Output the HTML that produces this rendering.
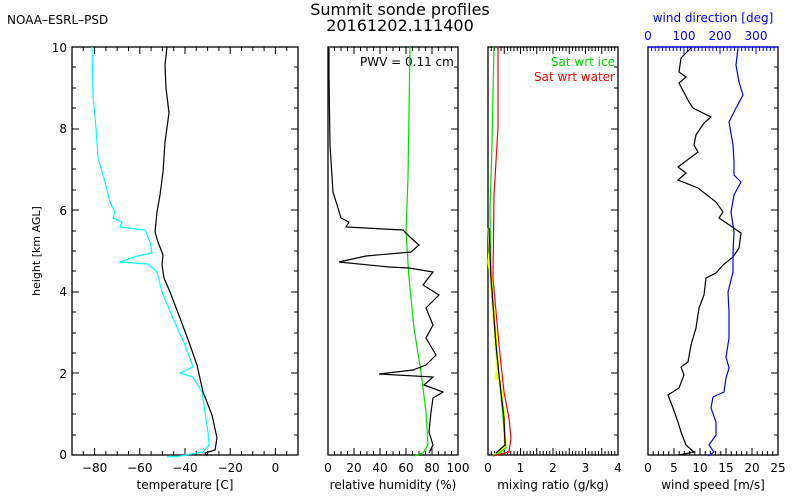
<!DOCTYPE html>
<html><head><meta charset="utf-8"><style>body{margin:0;background:#fff}svg{display:block}text{font-family:"DejaVu Sans","Liberation Sans",sans-serif}</style></head>
<body>
<svg width="800" height="500" xmlns="http://www.w3.org/2000/svg">
<rect width="800" height="500" fill="#fff"/>
<text x="7" y="24" font-size="12">NOAA–ESRL–PSD</text>
<text x="400" y="15" font-size="16" text-anchor="middle">Summit sonde profiles</text>
<text x="400" y="31" font-size="16" text-anchor="middle">20161202.111400</text>
<text transform="translate(40,251) rotate(-90)" font-size="11" text-anchor="middle">height [km AGL]</text>
<g font-size="12" text-anchor="end">
<text x="67" y="459">0</text><text x="67" y="378">2</text><text x="67" y="296">4</text><text x="67" y="215">6</text><text x="67" y="133">8</text><text x="67" y="52">10</text>
</g>
<g fill="none" stroke="#000" stroke-width="1.3">
<rect x="72" y="47" width="226" height="408"/>
<rect x="328" y="47" width="130" height="408"/>
<rect x="488" y="47" width="130" height="408"/>
<rect x="648" y="47" width="130" height="408"/>
</g>
<g stroke="#000" stroke-width="1">
<path d="M72 435h4M72 414h4M72 394h4M72 373h7M72 353h4M72 333h4M72 312h4M72 292h7M72 271h4M72 251h4M72 231h4M72 210h7M72 190h4M72 169h4M72 149h4M72 129h7M72 108h4M72 88h4M72 67h4
M298 435h-4M298 414h-4M298 394h-4M298 373h-7M298 353h-4M298 333h-4M298 312h-4M298 292h-7M298 271h-4M298 251h-4M298 231h-4M298 210h-7M298 190h-4M298 169h-4M298 149h-4M298 129h-7M298 108h-4M298 88h-4M298 67h-4
M458 435h-4M458 414h-4M458 394h-4M458 373h-7M458 353h-4M458 333h-4M458 312h-4M458 292h-7M458 271h-4M458 251h-4M458 231h-4M458 210h-7M458 190h-4M458 169h-4M458 149h-4M458 129h-7M458 108h-4M458 88h-4M458 67h-4
M618 435h-4M618 414h-4M618 394h-4M618 373h-7M618 353h-4M618 333h-4M618 312h-4M618 292h-7M618 271h-4M618 251h-4M618 231h-4M618 210h-7M618 190h-4M618 169h-4M618 149h-4M618 129h-7M618 108h-4M618 88h-4M618 67h-4
M778 435h-4M778 414h-4M778 394h-4M778 373h-7M778 353h-4M778 333h-4M778 312h-4M778 292h-7M778 271h-4M778 251h-4M778 231h-4M778 210h-7M778 190h-4M778 169h-4M778 149h-4M778 129h-7M778 108h-4M778 88h-4M778 67h-4"/>
<path d="M83.3 455v-4M94.6 455v-7M105.9 455v-4M117.2 455v-4M128.5 455v-4M139.8 455v-7M151.1 455v-4M162.4 455v-4M173.7 455v-4M185 455v-7M196.3 455v-4M207.6 455v-4M218.9 455v-4M230.2 455v-7M241.5 455v-4M252.8 455v-4M264.1 455v-4M275.4 455v-7M286.7 455v-4
M83.3 47v4M94.6 47v7M105.9 47v4M117.2 47v4M128.5 47v4M139.8 47v7M151.1 47v4M162.4 47v4M173.7 47v4M185 47v7M196.3 47v4M207.6 47v4M218.9 47v4M230.2 47v7M241.5 47v4M252.8 47v4M264.1 47v4M275.4 47v7M286.7 47v4"/>
<path d="M334.5 455v-4M341 455v-4M347.5 455v-4M354 455v-7M360.5 455v-4M367 455v-4M373.5 455v-4M380 455v-7M386.5 455v-4M393 455v-4M399.5 455v-4M406 455v-7M412.5 455v-4M419 455v-4M425.5 455v-4M432 455v-7M438.5 455v-4M445 455v-4M451.5 455v-4
M334.5 47v4M341 47v4M347.5 47v4M354 47v7M360.5 47v4M367 47v4M373.5 47v4M380 47v7M386.5 47v4M393 47v4M399.5 47v4M406 47v7M412.5 47v4M419 47v4M425.5 47v4M432 47v7M438.5 47v4M445 47v4M451.5 47v4"/>
<path d="M491.25 455v-4M494.5 455v-4M497.75 455v-4M501 455v-4M504.25 455v-7M507.5 455v-4M510.75 455v-4M514 455v-4M517.25 455v-4M520.5 455v-7M523.75 455v-4M527 455v-4M530.25 455v-4M533.5 455v-4M536.75 455v-7M540 455v-4M543.25 455v-4M546.5 455v-4M549.75 455v-4M553 455v-7M556.25 455v-4M559.5 455v-4M562.75 455v-4M566 455v-4M569.25 455v-7M572.5 455v-4M575.75 455v-4M579 455v-4M582.25 455v-4M585.5 455v-7M588.75 455v-4M592 455v-4M595.25 455v-4M598.5 455v-4M601.75 455v-7M605 455v-4M608.25 455v-4M611.5 455v-4M614.75 455v-4
M491.25 47v4M494.5 47v4M497.75 47v4M501 47v4M504.25 47v7M507.5 47v4M510.75 47v4M514 47v4M517.25 47v4M520.5 47v7M523.75 47v4M527 47v4M530.25 47v4M533.5 47v4M536.75 47v7M540 47v4M543.25 47v4M546.5 47v4M549.75 47v4M553 47v7M556.25 47v4M559.5 47v4M562.75 47v4M566 47v4M569.25 47v7M572.5 47v4M575.75 47v4M579 47v4M582.25 47v4M585.5 47v7M588.75 47v4M592 47v4M595.25 47v4M598.5 47v4M601.75 47v7M605 47v4M608.25 47v4M611.5 47v4M614.75 47v4"/>
<path d="M653.2 455v-4M658.4 455v-4M663.6 455v-4M668.8 455v-4M674 455v-7M679.2 455v-4M684.4 455v-4M689.6 455v-4M694.8 455v-4M700 455v-7M705.2 455v-4M710.4 455v-4M715.6 455v-4M720.8 455v-4M726 455v-7M731.2 455v-4M736.4 455v-4M741.6 455v-4M746.8 455v-4M752 455v-7M757.2 455v-4M762.4 455v-4M767.6 455v-4M772.8 455v-4"/>
</g>
<g stroke="#00f" stroke-width="1"><path d="M651.6 47v4M655.2 47v4M658.8 47v4M662.4 47v4M666 47v4M669.6 47v4M673.2 47v4M676.8 47v4M680.4 47v4M684 47v7M687.6 47v4M691.2 47v4M694.8 47v4M698.4 47v4M702 47v4M705.6 47v4M709.2 47v4M712.8 47v4M716.4 47v4M720 47v7M723.6 47v4M727.2 47v4M730.8 47v4M734.4 47v4M738 47v4M741.6 47v4M745.2 47v4M748.8 47v4M752.4 47v4M756 47v7M759.6 47v4M763.2 47v4M766.8 47v4M770.4 47v4M774 47v4"/></g>
<line x1="648" y1="47" x2="778" y2="47" stroke="#00f" stroke-width="1.3"/>
<g font-size="12" text-anchor="middle">
<text x="94.6" y="472">−80</text><text x="139.8" y="472">−60</text><text x="185" y="472">−40</text><text x="230.2" y="472">−20</text><text x="275.4" y="472">0</text>
<text x="328" y="472">0</text><text x="354" y="472">20</text><text x="380" y="472">40</text><text x="406" y="472">60</text><text x="432" y="472">80</text><text x="458" y="472">100</text>
<text x="488" y="472">0</text><text x="520.5" y="472">1</text><text x="553" y="472">2</text><text x="585.5" y="472">3</text><text x="618" y="472">4</text>
<text x="648" y="472">0</text><text x="674" y="472">5</text><text x="700" y="472">10</text><text x="726" y="472">15</text><text x="752" y="472">20</text><text x="778" y="472">25</text>
<text x="185" y="489">temperature [C]</text>
<text x="393" y="489">relative humidity (%)</text>
<text x="553" y="489">mixing ratio (g/kg)</text>
<text x="713" y="489">wind speed [m/s]</text>
</g>
<g font-size="12" text-anchor="middle" fill="#00f">
<text x="713" y="22">wind direction [deg]</text>
<text x="648" y="40">0</text><text x="684" y="40">100</text><text x="720" y="40">200</text><text x="756" y="40">300</text>
</g>
<text x="360" y="66" font-size="12">PWV = 0.11 cm</text>
<text x="615" y="66" font-size="12" fill="#0d0" text-anchor="end">Sat wrt ice</text>
<text x="615" y="81" font-size="12" fill="#f00" text-anchor="end">Sat wrt water</text>
<g fill="none" stroke-width="1.2">
<polyline stroke="#0ff" points="92,47 93,95 96,128 98,158 105,182 110,202 115,212 113,218 122,222 120,227 145,230 150,242 152,253 137,256 120,262 148,264 157,272 162,292 173,318 185,345 193,367 180,373 193,377 202,392 205,412 208,432 209,445 203,452 180,456 167,457"/>
<polyline stroke="#000" points="167,47 165,65 166,88 169,113 165,142 163,172 160,195 157,212 155,232 158,242 163,255 162,265 164,278 170,292 180,318 190,345 197,365 203,392 212,415 217,438 215,450 205,453 207,456"/>
<polyline stroke="#0d0" points="410,47 408,178 406,232 409,278 414,328 421,372 426,412 428,445 423,453 414,456"/>
<polyline stroke="#000" points="329,48 329,78 330,145 333,192 338,208 341,218 349,222 346,227 403,230 411,238 419,245 411,252 366,256 339,262 389,267 409,268 433,272 423,285 439,295 426,308 433,325 426,338 436,355 426,365 413,370 379,374 433,377 424,385 443,392 433,398 431,412 429,432 433,445 429,453"/>
<polyline stroke="#ff0" stroke-width="3" points="489,228 490,250 489,262 491,278 496,345 498,370 496,378 500,380 504,418 505,445 500,452 494,455"/>
<polyline stroke="#0d0" points="494,47 492,145 490,212 491,278 496,345 501,395 504,428 506,448 499,453 491,456"/>
<polyline stroke="#f00" points="498,47 498,128 494,195 493,278 499,345 504,392 509,418 511,438 509,452 493,456"/>
<polyline stroke="#000" points="489,228 491,278 496,345 499,375 504,418 505,445 496,453"/>
<polyline stroke="#000" points="691,48 681,58 679,72 686,77 679,83 689,102 693,108 711,117 704,123 696,135 694,145 698,152 678,167 686,173 678,180 698,188 716,202 723,212 719,218 741,233 739,248 733,257 723,265 716,273 706,278 704,295 699,308 696,328 691,345 688,362 681,367 684,375 679,388 668,395 673,408 678,422 681,432 686,445 694,452 679,455"/>
<polyline stroke="#00f" points="738,48 736,65 739,82 743,95 736,108 729,122 733,145 734,162 734,175 741,182 734,195 731,212 734,232 733,252 733,272 728,292 729,312 729,338 726,357 729,368 726,378 724,392 713,397 711,408 716,422 716,435 709,445 714,452 708,456"/>
</g>
</svg>
</body></html>
